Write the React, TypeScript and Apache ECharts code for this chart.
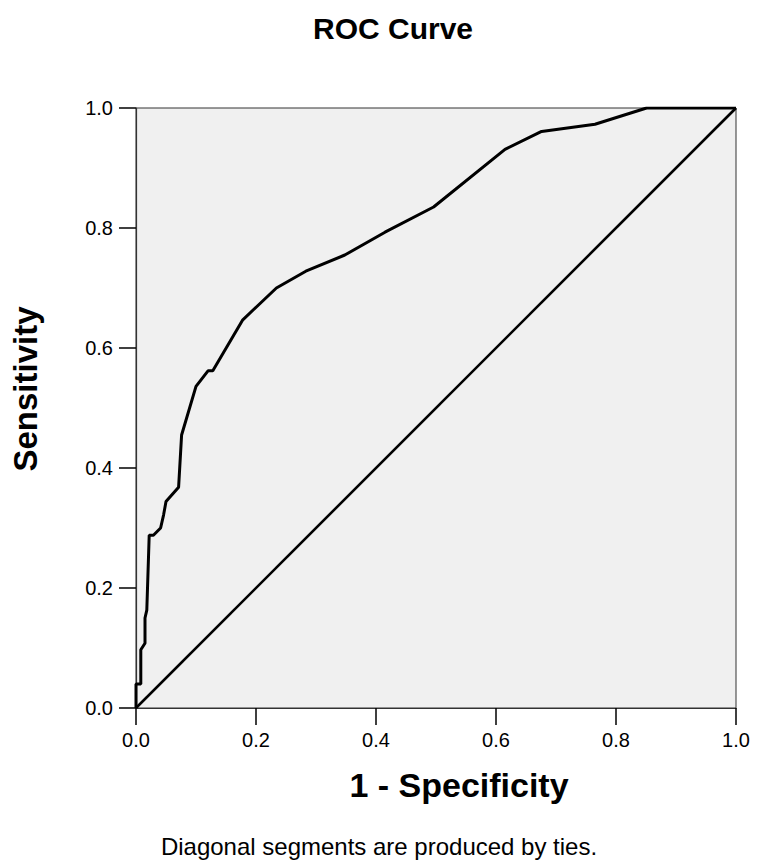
import React, { useEffect, useRef } from "react";
import * as echarts from "echarts";

const fpr = [0, 0, 0.008, 0.008, 0.015, 0.015, 0.018, 0.022, 0.029, 0.041, 0.046, 0.05, 0.071, 0.076, 0.1, 0.12, 0.128, 0.178, 0.234, 0.283, 0.348, 0.415, 0.496, 0.615, 0.676, 0.765, 0.851, 1];
const tpr = [0, 0.04, 0.04, 0.097, 0.108, 0.15, 0.163, 0.288, 0.288, 0.3, 0.322, 0.344, 0.368, 0.455, 0.536, 0.562, 0.562, 0.647, 0.7, 0.728, 0.755, 0.793, 0.835, 0.931, 0.961, 0.973, 1, 1];
const refX = [0, 1];
const refY = [0, 1];

const FONT = "'Liberation Sans', Arial, Helvetica, sans-serif";

export default function App() {
  const ref = useRef<HTMLDivElement>(null);
  useEffect(() => {
    document.body.style.margin = "0";
    const chart = echarts.init(ref.current!, null, { renderer: "svg" });
    const curve = fpr.map((x, i) => [x, tpr[i]]);
    const diag = refX.map((x, i) => [x, refY[i]]);
    const axisCommon = {
      type: "value" as const,
      min: 0,
      max: 1,
      interval: 0.2,
      splitLine: { show: false },
      axisLine: { show: true, onZero: false, lineStyle: { color: "#333", width: 1.2 } },
      axisTick: { show: true, inside: false, length: 17, lineStyle: { color: "#000", width: 1.5 } },
    };
    chart.setOption({
      animation: false,
      backgroundColor: "#fff",
      title: [
        {
          text: "ROC Curve",
          left: 388,
          top: 8,
          textAlign: "center",
          textStyle: { fontFamily: FONT, fontWeight: "bold", fontSize: 30, color: "#000" },
        },
        {
          text: "Diagonal segments are produced by ties.",
          left: 374,
          top: 829,
          textAlign: "center",
          textStyle: { fontFamily: FONT, fontWeight: "normal", fontSize: 24, color: "#000" },
        },
      ],
      grid: {
        left: 136,
        top: 108,
        right: 25,
        bottom: 160,
        show: true,
        backgroundColor: "#f0f0f0",
        borderColor: "#333",
        borderWidth: 1,
      },
      xAxis: {
        ...axisCommon,
        name: "1 - Specificity",
        nameLocation: "middle",
        nameGap: 60,
        nameTextStyle: {
          fontFamily: FONT,
          fontWeight: "bold",
          fontSize: 34,
          color: "#000",
          padding: [0, 0, 0, 46],
        },
        axisLabel: {
          fontFamily: FONT,
          fontSize: 20,
          color: "#000",
          margin: 22,
          formatter: (v: number) => v.toFixed(1),
        },
      },
      yAxis: {
        ...axisCommon,
        name: "Sensitivity",
        nameLocation: "middle",
        nameGap: 94,
        nameTextStyle: {
          fontFamily: FONT,
          fontWeight: "bold",
          fontSize: 33,
          color: "#000",
          padding: [0, 0, 0, 38],
        },
        axisLabel: {
          fontFamily: FONT,
          fontSize: 20,
          color: "#000",
          margin: 23,
          formatter: (v: number) => v.toFixed(1),
        },
      },
      series: [
        {
          type: "line",
          data: curve,
          showSymbol: false,
          symbol: "none",
          lineStyle: { color: "#000", width: 3 },
          z: 3,
        },
        {
          type: "line",
          data: diag,
          showSymbol: false,
          symbol: "none",
          lineStyle: { color: "#000", width: 2.6 },
          z: 2,
        },
      ],
    });
    return () => chart.dispose();
  }, []);
  return <div ref={ref} style={{ position: "absolute", left: 0, top: 0, width: 761, height: 868 }} />;
}
